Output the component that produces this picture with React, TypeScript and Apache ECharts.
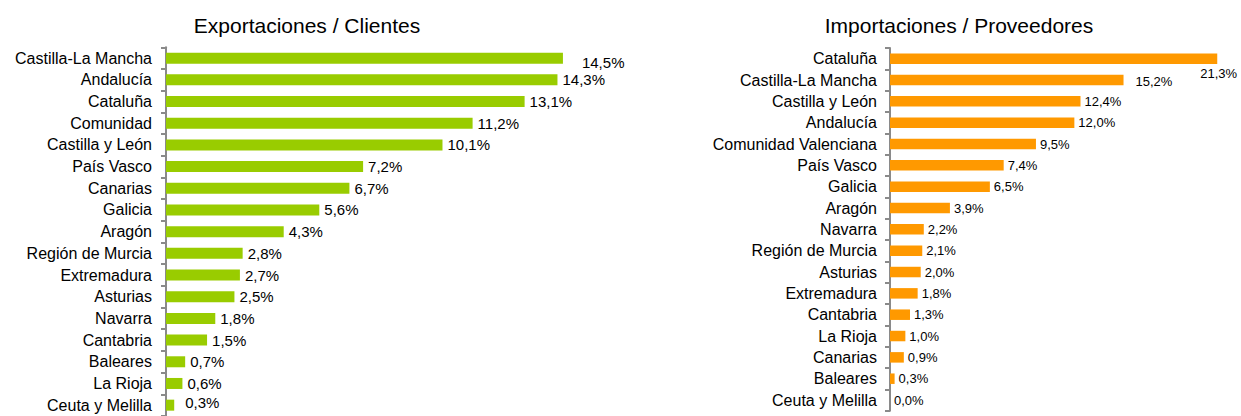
import React, { useEffect, useRef } from "react";
import * as echarts from "echarts";

const exportTitle = "Exportaciones / Clientes";
const importTitle = "Importaciones / Proveedores";

const exportCategories = [
  "Castilla-La Mancha", "Andalucía", "Cataluña", "Comunidad", "Castilla y León",
  "País Vasco", "Canarias", "Galicia", "Aragón", "Región de Murcia", "Extremadura",
  "Asturias", "Navarra", "Cantabria", "Baleares", "La Rioja", "Ceuta y Melilla",
];
const exportValues = [14.5, 14.3, 13.1, 11.2, 10.1, 7.2, 6.7, 5.6, 4.3, 2.8, 2.7, 2.5, 1.8, 1.5, 0.7, 0.6, 0.3];

const importCategories = [
  "Cataluña", "Castilla-La Mancha", "Castilla y León", "Andalucía", "Comunidad Valenciana",
  "País Vasco", "Galicia", "Aragón", "Navarra", "Región de Murcia", "Asturias",
  "Extremadura", "Cantabria", "La Rioja", "Canarias", "Baleares", "Ceuta y Melilla",
];
const importValues = [21.3, 15.2, 12.4, 12.0, 9.5, 7.4, 6.5, 3.9, 2.2, 2.1, 2.0, 1.8, 1.3, 1.0, 0.9, 0.3, 0.0];

// label offsets (layout only) for a few labels that sit away from their bar end
const exportLabelOffsets: Record<number, number[]> = { 0: [14, 4], 16: [6, -3] };
const importLabelOffsets: Record<number, number[]> = { 0: [-21, 15], 1: [8, 1] };

const fmt = (v: number) => v.toFixed(1).replace(".", ",") + "%";

const FONT = "Liberation Sans, Arial, sans-serif";

export default function App() {
  const ref = useRef<HTMLDivElement>(null);
  useEffect(() => {
    document.body.style.margin = "0";
    const chart = echarts.init(ref.current!, null, { renderer: "svg" });

    const mkData = (vals: number[], offs: Record<number, number[]>) =>
      vals.map((v, i) =>
        offs[i] ? { value: v, label: { offset: offs[i] } } : { value: v }
      );

    const axisCommon = {
      type: "category" as const,
      inverse: true,
      axisLine: { show: true, lineStyle: { color: "#8a8a8a", width: 2 } },
      axisTick: { show: true, length: 5, lineStyle: { color: "#8a8a8a", width: 2 } },
    };
    const labelCommon = { color: "#000", fontFamily: FONT, fontSize: 16 };

    chart.setOption({
      animation: false,
      textStyle: { fontFamily: FONT },
      title: [
        { text: exportTitle, left: 302, top: 10, textAlign: "center",
          textStyle: { fontFamily: FONT, fontSize: 21, fontWeight: "normal", color: "#000" } },
        { text: importTitle, left: 954, top: 10, textAlign: "center",
          textStyle: { fontFamily: FONT, fontSize: 21, fontWeight: "normal", color: "#000" } },
      ],
      grid: [
        { left: 166, top: 47.3, width: 438, height: 374 },
        { left: 890, top: 48, width: 338, height: 362.7 },
      ],
      xAxis: [
        { type: "value", gridIndex: 0, min: 0, max: 16, show: false },
        { type: "value", gridIndex: 1, min: 0, max: 22, show: false },
      ],
      yAxis: [
        { ...axisCommon, gridIndex: 0, data: exportCategories,
          axisLabel: { ...labelCommon, margin: 14 } },
        { ...axisCommon, gridIndex: 1, data: importCategories,
          axisLabel: { ...labelCommon, margin: 13 } },
      ],
      series: [
        {
          type: "bar", xAxisIndex: 0, yAxisIndex: 0, barWidth: 11,
          data: mkData(exportValues, exportLabelOffsets),
          itemStyle: { color: "#99cc00" },
          label: { show: true, position: "right", distance: 5, color: "#000",
            fontFamily: FONT, fontSize: 15, formatter: (p: any) => fmt(p.value) },
        },
        {
          type: "bar", xAxisIndex: 1, yAxisIndex: 1, barWidth: 10.5,
          data: mkData(importValues, importLabelOffsets),
          itemStyle: { color: "#ff9900" },
          label: { show: true, position: "right", distance: 4, color: "#000",
            fontFamily: FONT, fontSize: 13, formatter: (p: any) => fmt(p.value) },
        },
      ],
    });
    return () => chart.dispose();
  }, []);
  return <div ref={ref} style={{ width: 1241, height: 416 }} />;
}
